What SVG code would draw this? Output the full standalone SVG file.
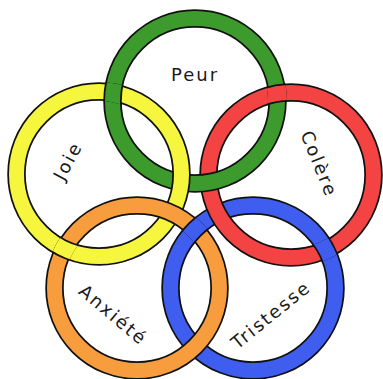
<svg xmlns="http://www.w3.org/2000/svg" xmlns:xlink="http://www.w3.org/1999/xlink" width="383" height="379" viewBox="0 0 383 379">
<style>
.o{fill:none;stroke:#111;stroke-width:18.5}
.c{fill:none;stroke-width:15}
.lbl{font-family:"DejaVu Sans","Liberation Sans",sans-serif;font-size:18px;fill:#1a1a1a;text-anchor:middle;letter-spacing:2px}
</style>
<defs>
<g id="rG"><circle class="o" cx="195" cy="101" r="82.5"/><circle class="c" cx="195" cy="101" r="82.5" stroke="#3d9b2d"/></g>
<g id="rY"><circle class="o" cx="99" cy="174" r="82.5"/><circle class="c" cx="99" cy="174" r="82.5" stroke="#f6f63f"/></g>
<g id="rR"><circle class="o" cx="291" cy="175" r="82.5"/><circle class="c" cx="291" cy="175" r="82.5" stroke="#f44343"/></g>
<g id="rO"><circle class="o" cx="137" cy="288" r="82.5"/><circle class="c" cx="137" cy="288" r="82.5" stroke="#f89d3e"/></g>
<g id="rB"><circle class="o" cx="253" cy="288" r="82.5"/><circle class="c" cx="253" cy="288" r="82.5" stroke="#3f5ef0"/></g>
<clipPath id="aY"><path clip-rule="evenodd" d="M7,174 a92,92 0 1,0 184,0 a92,92 0 1,0 -184,0 Z M26,174 a73,73 0 1,0 146,0 a73,73 0 1,0 -146,0 Z"/></clipPath>
<clipPath id="aG"><path clip-rule="evenodd" d="M103,101 a92,92 0 1,0 184,0 a92,92 0 1,0 -184,0 Z M122,101 a73,73 0 1,0 146,0 a73,73 0 1,0 -146,0 Z"/></clipPath>
<clipPath id="aO"><path clip-rule="evenodd" d="M45,288 a92,92 0 1,0 184,0 a92,92 0 1,0 -184,0 Z M64,288 a73,73 0 1,0 146,0 a73,73 0 1,0 -146,0 Z"/></clipPath>
<clipPath id="aR"><path clip-rule="evenodd" d="M199,175 a92,92 0 1,0 184,0 a92,92 0 1,0 -184,0 Z M218,175 a73,73 0 1,0 146,0 a73,73 0 1,0 -146,0 Z"/></clipPath>
<clipPath id="k1"><circle cx="112.9" cy="92.7" r="18"/></clipPath>
<clipPath id="k4"><circle cx="277.1" cy="92.7" r="18"/></clipPath>
<clipPath id="k5"><circle cx="64.4" cy="248.9" r="18"/></clipPath>
<clipPath id="k8"><circle cx="325.6" cy="249.5" r="18"/></clipPath>
<clipPath id="k9"><circle cx="195" cy="229.3" r="18"/></clipPath>
</defs>
<rect width="383" height="379" fill="#fff"/>
<g id="tristesse"><use xlink:href="#rB"/><text class="lbl" transform="translate(271,315) rotate(-39)" x="0" y="6">Tristesse</text></g>
<g id="colere"><use xlink:href="#rR"/><text class="lbl" transform="translate(319,164) rotate(68)" x="0" y="6">Colère</text></g>
<g id="peur"><use xlink:href="#rG"/><text class="lbl" x="195" y="81">Peur</text></g>
<g id="joie"><use xlink:href="#rY"/><text class="lbl" transform="translate(68,161) rotate(-62)" x="0" y="6">Joie</text></g>
<g id="anxiete"><use xlink:href="#rO"/><text class="lbl" transform="translate(113,315) rotate(40)" x="0" y="6">Anxiété</text></g>
<g id="crossings">
<g clip-path="url(#k1)"><use xlink:href="#rG" clip-path="url(#aY)"/></g>
<g clip-path="url(#k4)"><use xlink:href="#rR" clip-path="url(#aG)"/></g>
<g clip-path="url(#k5)"><use xlink:href="#rY" clip-path="url(#aO)"/></g>
<g clip-path="url(#k8)"><use xlink:href="#rB" clip-path="url(#aR)"/></g>
<g clip-path="url(#k9)"><use xlink:href="#rB" clip-path="url(#aO)"/></g>
</g>
</svg>
